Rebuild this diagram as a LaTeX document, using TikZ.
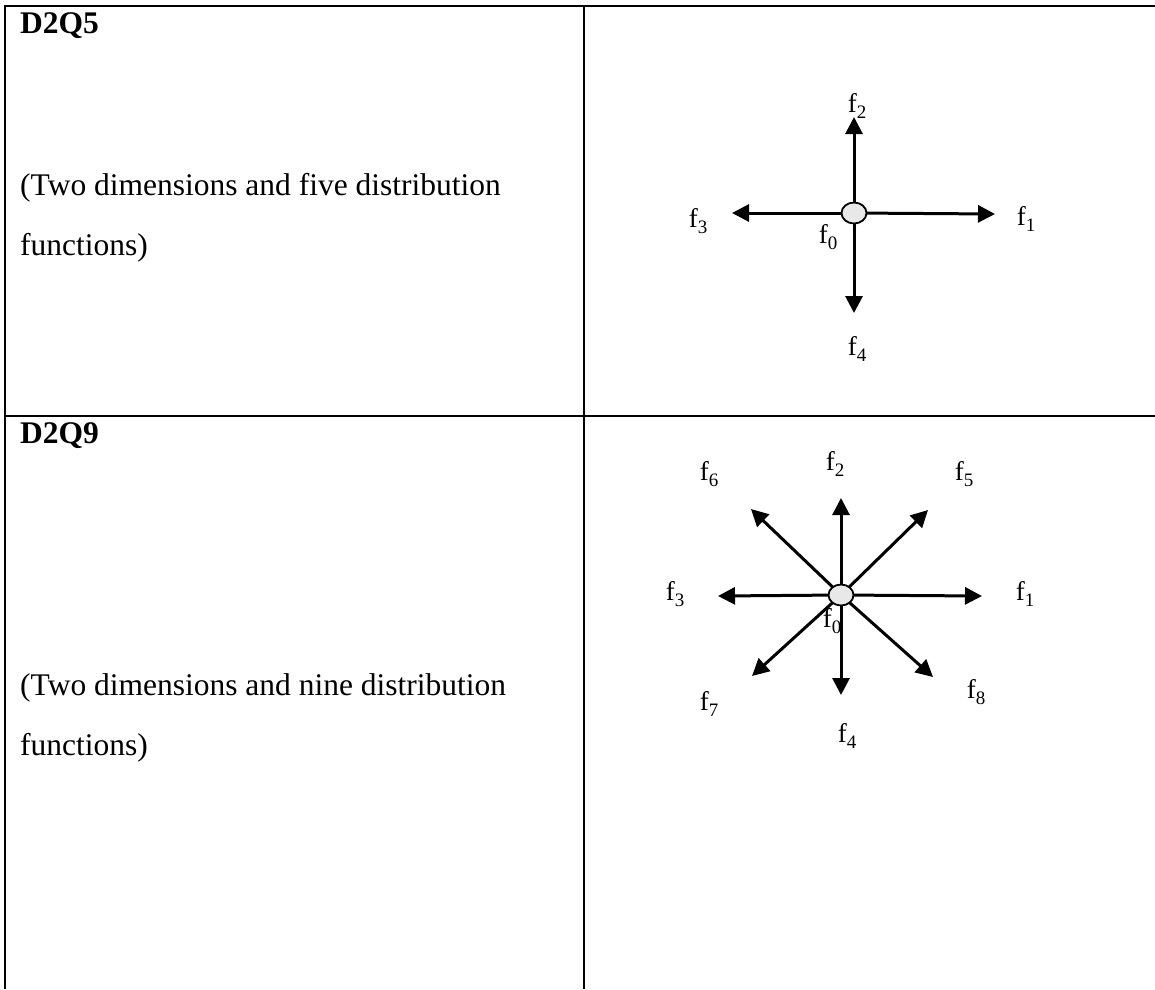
\documentclass[tikz,border=0pt]{standalone}
\usepackage{fontspec}
\setmainfont{Liberation Serif}
\usetikzlibrary{shapes.geometric, arrows.meta, positioning}

\tikzset{
  rule/.style={line width=2pt},
  vec/.style={line width=3pt, -{Triangle[length=17pt, width=17pt]}},
  site/.style={ellipse, draw, line width=1.8pt, fill=gray!18,
    minimum width=25pt, minimum height=21pt, inner sep=0pt},
  lbl/.style={anchor=base, inner sep=0pt, font=\fontsize{27}{30}\selectfont},
  txt/.style={anchor=base west, inner sep=0pt, align=left,
    font=\fontsize{31.5}{60}\selectfont},
  head/.style={anchor=base west, inner sep=0pt, font=\fontsize{31.5}{36}\selectfont\bfseries},
}
\newcommand{\fsub}[1]{f\raisebox{-6pt}{\fontsize{19}{19}\selectfont #1}}

\begin{document}
\begin{tikzpicture}[x=1pt, y=-1pt]
  \useasboundingbox (0,0) rectangle (1155,989);

  % table rules
  \draw[rule] (5,989) -- (5,6) -- (1155,6);
  \draw[rule] (584,6) -- (584,989);
  \draw[rule] (5,416) -- (1155,416);

  % left column
  \node[head] (h5) at (20,33) {D2Q5};
  \node[txt] (d5) at (20,255) {(Two dimensions and five distribution\\functions)};
  \node[head] (h9) at (20,443) {D2Q9};
  \node[txt] (d9) at (20,755) {(Two dimensions and nine distribution\\functions)};

  % D2Q5 lattice
  \coordinate (o5) at (854,213);
  \coordinate (a5-1) at (995,214);
  \coordinate (a5-2) at (854,117);
  \coordinate (a5-3) at (732,213);
  \coordinate (a5-4) at (854,313);
  \foreach \k in {1,...,4}
    \draw[vec] (o5) -- (a5-\k);
  \node[site] (s5) at (o5) {};
  \node[lbl] (l5-1) at (1026,225) {\fsub{1}};
  \node[lbl] (l5-2) at (857,112) {\fsub{2}};
  \node[lbl] (l5-3) at (698,227) {\fsub{3}};
  \node[lbl] (l5-4) at (857,355) {\fsub{4}};
  \node[lbl] (l5-0) at (828,243) {\fsub{0}};

  % D2Q9 lattice
  \coordinate (o9) at (841,595);
  \coordinate (a9-1) at (982,596);
  \coordinate (a9-2) at (841,498);
  \coordinate (a9-3) at (718,596);
  \coordinate (a9-4) at (841,695);
  \coordinate (a9-5) at (928,510);
  \coordinate (a9-6) at (751,509);
  \coordinate (a9-7) at (752,676);
  \coordinate (a9-8) at (933,677);
  \foreach \k in {1,...,8}
    \draw[vec] (o9) -- (a9-\k);
  \node[site] (s9) at (o9) {};
  \node[lbl] (l9-1) at (1025,600) {\fsub{1}};
  \node[lbl] (l9-2) at (835,470) {\fsub{2}};
  \node[lbl] (l9-3) at (675,600) {\fsub{3}};
  \node[lbl] (l9-4) at (847,742) {\fsub{4}};
  \node[lbl] (l9-5) at (964,480) {\fsub{5}};
  \node[lbl] (l9-6) at (709,480) {\fsub{6}};
  \node[lbl] (l9-7) at (709,710) {\fsub{7}};
  \node[lbl] (l9-8) at (976,698) {\fsub{8}};
  \node[lbl] (l9-0) at (832,627) {\fsub{0}};
\end{tikzpicture}
\end{document}
